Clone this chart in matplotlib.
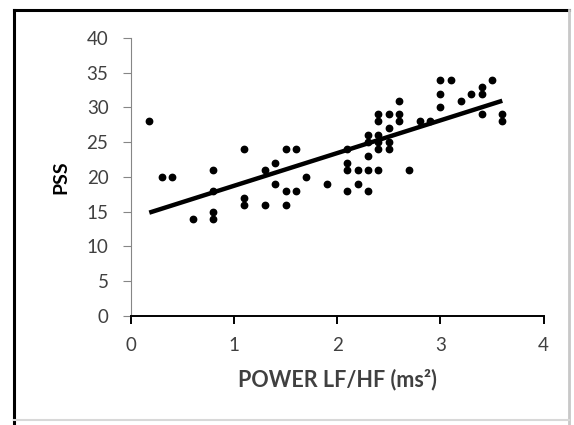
import numpy as np
import matplotlib.pyplot as plt
from matplotlib.lines import Line2D

# LF/HF power vs PSS score
lf_hf = [0.18, 0.3, 0.4, 0.6, 0.8, 0.8, 0.8, 0.8, 1.1, 1.1, 1.1, 1.3, 1.3,
         1.4, 1.4, 1.5, 1.5, 1.5, 1.6, 1.6, 1.7, 1.9, 2.1, 2.1, 2.1, 2.1,
         2.2, 2.2, 2.3, 2.3, 2.3, 2.3, 2.3, 2.4, 2.4, 2.4, 2.4, 2.4, 2.4,
         2.5, 2.5, 2.5, 2.5, 2.6, 2.6, 2.6, 2.7, 2.8, 2.9, 3.0, 3.0, 3.0,
         3.1, 3.2, 3.3, 3.4, 3.4, 3.4, 3.5, 3.6, 3.6]
pss = [28, 20, 20, 14, 21, 18, 15, 14, 24, 17, 16, 21, 16,
       22, 19, 24, 18, 16, 24, 18, 20, 19, 24, 22, 21, 18,
       21, 19, 26, 25, 23, 21, 18, 29, 28, 26, 25, 24, 21,
       29, 27, 25, 24, 31, 29, 28, 21, 28, 28, 34, 32, 30,
       34, 31, 32, 33, 32, 29, 34, 29, 28]

x_ticks = [0, 1, 2, 3, 4]
y_ticks = [0, 5, 10, 15, 20, 25, 30, 35, 40]

plt.rcParams['font.family'] = ['Lato', 'DejaVu Sans']

fig = plt.figure(figsize=(5.74, 4.25), dpi=100)
ax = fig.add_axes([0.2277, 0.2565, 0.7193, 0.6541])

x = np.array(lf_hf)
y = np.array(pss)
ax.plot(x, y, 'o', color='black', markersize=4.6, zorder=3)

# linear trendline over the data range
slope, icpt = np.polyfit(x, y, 1)
xl = np.array([x.min(), x.max()])
ax.plot(xl, slope * xl + icpt, color='black', lw=3.2, solid_capstyle='butt', zorder=2)

ax.set_xlim(0, 4)
ax.set_ylim(0, 40)
ax.set_xticks(x_ticks)
ax.set_yticks(y_ticks)

for s in ['top', 'right']:
    ax.spines[s].set_visible(False)
ax.spines['left'].set_color('#868686')
ax.spines['bottom'].set_color('black')
ax.spines['bottom'].set_linewidth(1.4)
ax.tick_params(axis='y', direction='out', length=6, color='#868686',
               labelsize=13.5, labelcolor='#404040', pad=10)
ax.tick_params(axis='x', direction='out', length=6, width=1.4, color='black',
               labelsize=13.5, labelcolor='#404040', pad=9)

ax.set_xlabel('POWER LF/HF (ms²)', fontsize=15.5, fontweight='bold',
              color='#404040', labelpad=11)
ax.set_ylabel('PSS', fontsize=14, fontweight='bold', color='black', labelpad=12)

# outer chart frame
W, H = 574, 425
fig.add_artist(Line2D([14 / W, 14 / W], [0, 1 - 10 / H], color='black', lw=2.2))
fig.add_artist(Line2D([14 / W, 569 / W], [1 - 10 / H, 1 - 10 / H], color='black', lw=2.2))
fig.add_artist(Line2D([569 / W, 569 / W], [0, 1 - 10 / H], color='#c8c8c8', lw=2))
fig.add_artist(Line2D([14 / W, 569 / W], [5 / H, 5 / H], color='#d8d8d8', lw=1.5))

fig.savefig('out.png', dpi=100)
